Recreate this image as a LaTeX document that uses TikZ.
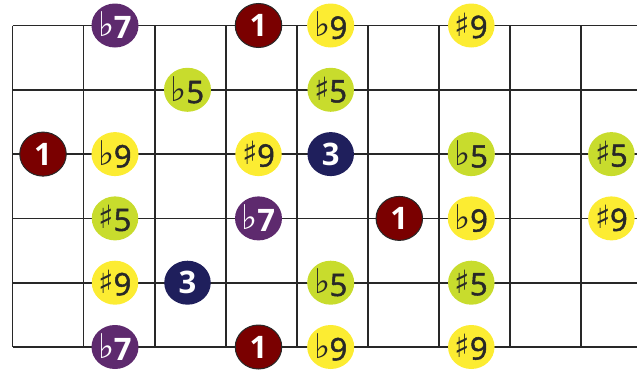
\documentclass[tikz,border=0pt]{standalone}
\usepackage{fontspec}
\usepackage{tikz}
\usepackage{xcolor}
\setmainfont{Open Sans}
\newfontfamily\accfont{DejaVu Sans}
\newfontfamily\darkfont{Open Sans}[FakeBold=1.6]
\usetikzlibrary{shapes.geometric}
\definecolor{cRoot}{RGB}{122,0,0}
\definecolor{cSeven}{RGB}{94,42,110}
\definecolor{cNine}{RGB}{252,236,50}
\definecolor{cFive}{RGB}{200,220,45}
\definecolor{cThird}{RGB}{31,31,92}
\definecolor{cLine}{RGB}{40,40,40}
\newcommand{\flt}{{\accfont\mdseries\fontsize{34}{34}\selectfont\raisebox{2pt}{♭}}\kern-0.5pt}
\newcommand{\shp}{{\accfont\mdseries\fontsize{32}{32}\selectfont\raisebox{2pt}{♯}}\kern-0.5pt}
\tikzset{
	gridline/.style={draw=cLine, line width=1.8pt},
	dot/.style ={ellipse, minimum width=46.5pt, minimum height=44pt, inner sep=0pt},
	root/.style ={dot, fill=cRoot, draw=cLine, line width=1pt, text=white, font=\fontsize{31}{31}\selectfont\bfseries},
	seven/.style={dot, fill=cSeven, text=white, font=\fontsize{31}{31}\selectfont\bfseries},
	third/.style={dot, fill=cThird, text=white, font=\fontsize{31}{31}\selectfont\bfseries},
	nine/.style ={dot, fill=cNine, text=cLine, font=\darkfont\fontsize{31}{31}\selectfont},
	five/.style ={dot, fill=cFive, text=cLine, font=\darkfont\fontsize{31}{31}\selectfont},
}
\begin{document}
\begin{tikzpicture}[x=1pt, y=-1pt]
	\useasboundingbox (0,0) rectangle (637,372);
	% strings and frets
	\foreach \s in {0,...,5}
		\draw[gridline] (12.5,25.5+64.3*\s) -- (637,25.5+64.3*\s);
	\foreach \f in {0,...,8}
		\draw[gridline] (12.5+71.05*\f,25.5) -- (12.5+71.05*\f,347);
	% notes
	\foreach \x/\y/\kind/\lab [count=\i] in {
			115/25.5/seven/\flt 7, 258.5/25.5/root/1, 330.7/25.5/nine/\flt 9, 471.3/25.5/nine/\shp 9,
			187.5/89.8/five/\flt 5, 330.7/89.8/five/\shp 5,
			43/154.1/root/1, 115/154.1/nine/\flt 9, 258.5/154.1/nine/\shp 9, 330.7/154.1/third/3, 471.3/154.1/five/\flt 5, 611.4/154.1/five/\shp 5,
			115/218.4/five/\shp 5, 258.5/218.4/seven/\flt 7, 399.3/218.4/root/1, 471.3/218.4/nine/\flt 9, 611.4/218.4/nine/\shp 9,
			115/282.7/nine/\shp 9, 187.5/282.7/third/3, 330.7/282.7/five/\flt 5, 471.3/282.7/five/\shp 5,
			115/347/seven/\flt 7, 258.5/347/root/1, 330.7/347/nine/\flt 9, 471.3/347/nine/\shp 9}
		\node[\kind] (note\i) at (\x,\y) {\lab};
\end{tikzpicture}
\end{document}
